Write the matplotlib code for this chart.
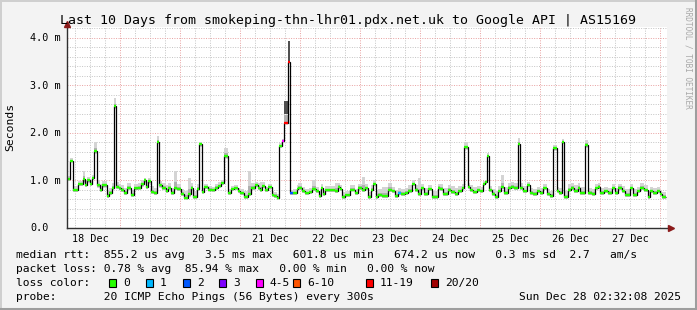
import matplotlib
matplotlib.use('Agg')
import matplotlib.pyplot as plt
from matplotlib.patches import Rectangle
from matplotlib.lines import Line2D
import numpy as np

W, H = 697, 310

# hours since 18 Dec 00:00, start of each consolidated step
t_start = [
    2.8, 4.0, 5.2, 7.2, 9.2, 10.0, 10.8, 12.0, 12.8, 13.6,
    14.8, 16.0, 16.8, 18.8, 19.6, 20.8, 21.6, 22.4, 23.6, 24.4,
    25.6, 26.8, 28.4, 29.6, 31.2, 32.4, 33.6, 34.4, 35.2, 36.4,
    37.6, 38.8, 39.6, 40.8, 42.4, 43.2, 44.4, 45.6, 46.8, 48.4,
    49.6, 51.2, 52.4, 53.2, 54.8, 55.6, 56.8, 57.6, 59.2, 60.8,
    62.0, 63.2, 64.4, 65.6, 67.2, 68.4, 69.6, 71.2, 72.0, 73.6,
    75.2, 76.4, 78.0, 79.2, 80.0, 80.8, 82.0, 83.2, 84.8, 85.6,
    86.8, 87.6, 88.8, 89.6, 91.2, 92.0, 93.2, 94.8, 95.2, 96.8,
    98.0, 99.6, 100.8, 102.4, 103.6, 104.4, 105.2, 106.0, 107.2, 110.0,
    111.2, 112.0, 112.8, 114.0, 116.0, 118.0, 119.2, 120.8, 122.0, 123.2,
    124.4, 125.2, 126.4, 127.2, 128.8, 131.2, 132.8, 134.0, 135.2, 136.4,
    138.0, 139.2, 140.8, 142.0, 143.2, 144.4, 145.6, 147.2, 148.8, 151.2,
    152.0, 153.2, 155.2, 156.4, 158.0, 159.2, 160.8, 161.6, 163.2, 164.0,
    165.2, 166.8, 168.0, 169.2, 170.0, 170.8, 171.6, 172.8, 174.0, 175.2,
    176.4, 177.6, 179.2, 180.4, 181.6, 183.2, 184.0, 185.2, 186.8, 188.0,
    189.2, 190.8, 192.0, 193.2, 194.8, 196.0, 197.2, 198.8, 199.6, 200.8,
    201.6, 203.2, 204.4, 205.6, 207.2, 208.0, 210.0, 211.2, 212.8, 214.0,
    215.2, 216.0, 217.6, 219.2, 220.8, 222.0, 223.2, 224.8, 226.0, 228.0,
    229.2, 230.8, 232.0, 233.6, 235.2, 236.0, 237.2, 238.8, 240.0, 240.8,
]
t_end = 242.4

# median rtt in ms
median_ms = [
    1.03, 1.42, 0.80, 0.92, 1.03, 0.90, 1.00, 0.92, 1.06, 1.62,
    0.90, 0.79, 0.90, 0.68, 0.73, 0.85, 2.56, 0.87, 0.84, 0.80,
    0.73, 0.85, 0.69, 0.84, 0.85, 0.92, 1.00, 0.87, 0.98, 0.76,
    0.73, 1.82, 0.90, 0.84, 0.78, 0.85, 0.73, 0.84, 0.82, 0.71,
    0.64, 0.71, 0.85, 0.66, 0.82, 1.76, 0.75, 0.86, 0.81, 0.79,
    0.85, 0.89, 0.94, 1.52, 0.73, 0.82, 0.85, 0.78, 0.73, 0.66,
    0.71, 0.84, 0.90, 0.85, 0.80, 0.89, 0.79, 0.87, 0.69, 0.68,
    0.64, 1.73, 1.84, 2.22, 3.50, 0.74, 0.74, 0.82, 0.85, 0.77,
    0.73, 0.75, 0.82, 0.77, 0.68, 0.84, 0.71, 0.79, 0.80, 0.78,
    0.87, 0.82, 0.66, 0.69, 0.81, 0.73, 0.85, 0.80, 0.84, 0.65,
    0.80, 0.92, 0.66, 0.69, 0.68, 0.80, 0.77, 0.68, 0.73, 0.71,
    0.74, 0.77, 0.92, 0.80, 0.71, 0.84, 0.71, 0.82, 0.66, 0.85,
    0.82, 0.71, 0.80, 0.75, 0.71, 0.77, 0.84, 1.70, 0.87, 0.79,
    0.75, 0.80, 0.77, 0.92, 0.96, 1.52, 0.80, 0.71, 0.66, 0.77,
    0.87, 0.73, 0.84, 0.87, 0.84, 1.77, 0.84, 0.77, 0.90, 0.73,
    0.71, 0.77, 0.73, 0.84, 0.71, 0.68, 1.68, 0.77, 0.74, 1.82,
    0.66, 0.80, 0.84, 0.78, 0.85, 0.74, 1.75, 0.74, 0.71, 0.84,
    0.87, 0.73, 0.77, 0.73, 0.84, 0.73, 0.85, 0.77, 0.69, 0.84,
    0.69, 0.77, 0.85, 0.79, 0.66, 0.77, 0.73, 0.77, 0.71, 0.66,
]

# smoke: top and bottom of the ping spread, ms
smoke_hi = [
    1.10, 1.48, 0.88, 0.98, 1.19, 1.00, 1.08, 1.00, 1.12, 1.82,
    1.00, 0.92, 0.98, 0.80, 0.85, 0.94, 2.73, 0.96, 0.93, 0.90,
    0.84, 0.95, 0.80, 0.93, 0.95, 1.00, 1.06, 0.96, 1.05, 0.88,
    0.84, 1.94, 0.98, 0.94, 0.90, 0.95, 0.84, 1.19, 0.92, 0.82,
    0.78, 1.05, 0.94, 0.78, 0.92, 1.80, 0.84, 0.92, 0.88, 0.86,
    0.92, 0.96, 1.00, 1.68, 0.82, 0.88, 0.90, 0.85, 0.82, 0.78,
    1.19, 0.95, 0.97, 0.95, 0.97, 0.96, 0.86, 0.93, 0.78, 0.76,
    0.72, 1.78, 1.88, 2.68, 3.94, 0.80, 0.82, 0.90, 0.94, 0.86,
    0.82, 0.84, 1.00, 0.86, 0.78, 0.93, 0.80, 0.88, 0.88, 0.95,
    0.95, 0.90, 0.76, 0.78, 0.90, 0.82, 0.93, 1.08, 0.93, 0.76,
    0.90, 1.00, 0.80, 0.82, 0.86, 0.95, 0.86, 0.80, 0.84, 0.82,
    0.84, 0.90, 1.00, 0.90, 1.05, 0.93, 0.84, 0.90, 0.78, 0.93,
    0.92, 0.84, 0.90, 0.88, 0.84, 0.88, 0.92, 1.80, 0.95, 0.90,
    0.86, 0.88, 0.86, 0.98, 1.02, 1.58, 0.88, 0.82, 0.78, 0.88,
    1.12, 0.86, 0.94, 0.96, 0.94, 1.89, 0.95, 0.88, 0.97, 0.84,
    0.82, 0.86, 0.84, 0.92, 0.82, 0.78, 1.75, 0.86, 0.84, 1.87,
    0.78, 0.92, 0.94, 0.90, 0.94, 0.86, 1.85, 0.84, 0.82, 0.92,
    0.94, 0.84, 0.86, 0.84, 0.92, 0.84, 0.93, 0.88, 0.82, 0.92,
    0.82, 0.86, 0.94, 0.90, 0.78, 0.86, 0.84, 0.86, 0.80, 0.76,
]
smoke_lo = [
    0.98, 1.38, 0.76, 0.88, 0.95, 0.86, 0.95, 0.88, 1.00, 1.55,
    0.85, 0.75, 0.84, 0.64, 0.69, 0.80, 2.50, 0.82, 0.79, 0.76,
    0.69, 0.80, 0.65, 0.79, 0.80, 0.87, 0.94, 0.83, 0.92, 0.72,
    0.69, 1.76, 0.85, 0.80, 0.74, 0.80, 0.69, 0.80, 0.78, 0.67,
    0.60, 0.66, 0.80, 0.62, 0.78, 1.70, 0.71, 0.82, 0.77, 0.75,
    0.81, 0.85, 0.90, 1.46, 0.69, 0.78, 0.81, 0.74, 0.69, 0.62,
    0.67, 0.80, 0.86, 0.81, 0.76, 0.85, 0.75, 0.83, 0.65, 0.64,
    0.60, 1.68, 1.80, 2.40, 3.50, 0.70, 0.70, 0.78, 0.81, 0.73,
    0.69, 0.71, 0.78, 0.73, 0.64, 0.80, 0.67, 0.75, 0.76, 0.74,
    0.83, 0.78, 0.62, 0.65, 0.77, 0.69, 0.81, 0.76, 0.80, 0.61,
    0.76, 0.88, 0.62, 0.65, 0.64, 0.76, 0.73, 0.64, 0.69, 0.67,
    0.70, 0.73, 0.88, 0.76, 0.67, 0.80, 0.67, 0.78, 0.62, 0.81,
    0.78, 0.67, 0.76, 0.71, 0.67, 0.73, 0.80, 1.64, 0.83, 0.75,
    0.71, 0.76, 0.73, 0.88, 0.92, 1.47, 0.76, 0.67, 0.62, 0.73,
    0.83, 0.69, 0.80, 0.83, 0.80, 1.72, 0.80, 0.73, 0.86, 0.69,
    0.67, 0.73, 0.69, 0.80, 0.67, 0.64, 1.62, 0.73, 0.70, 1.76,
    0.62, 0.76, 0.80, 0.74, 0.81, 0.70, 1.69, 0.70, 0.67, 0.80,
    0.83, 0.69, 0.73, 0.69, 0.80, 0.69, 0.81, 0.73, 0.65, 0.80,
    0.65, 0.73, 0.81, 0.75, 0.62, 0.73, 0.69, 0.73, 0.67, 0.62,
]

# pings lost (out of 20) where non-zero, keyed by step start
lost_pings = {88.8: 4, 89.6: 12, 91.2: 12, 92.0: 2, 135.2: 1}

loss_labels = ['0', '1', '2', '3', '4-5', '6-10', '11-19', '20/20']
loss_colors = ['#26ff00', '#00b8ff', '#0059ff', '#7e00ff',
               '#ff00ff', '#ff5500', '#ff0000', '#a00000']
loss_upper = [0, 1, 2, 3, 5, 10, 19, 20]

day_labels = ['18 Dec', '19 Dec', '20 Dec', '21 Dec', '22 Dec',
              '23 Dec', '24 Dec', '25 Dec', '26 Dec', '27 Dec']
y_ticks = [0, 1, 2, 3, 4]
y_labels = ['0.0', '1.0 m', '2.0 m', '3.0 m', '4.0 m']

title = 'Last 10 Days from smokeping-thn-lhr01.pdx.net.uk to Google API | AS15169'
legend_rtt = ('median rtt:  855.2 us avg   3.5 ms max   601.8 us min   '
              '674.2 us now   0.3 ms sd  2.7   am/s')
legend_loss = 'packet loss: 0.78 % avg  85.94 % max   0.00 % min   0.00 % now'
legend_probe = 'probe:       20 ICMP Echo Pings (56 Bytes) every 300s'
stamp = 'Sun Dec 28 02:32:08 2025'


def loss_color(n):
    for up, c in zip(loss_upper, loss_colors):
        if n <= up:
            return c
    return loss_colors[-1]


def fx(x):
    return x / W


def fy(y):
    return 1 - y / H


MONO = 'DejaVu Sans Mono'
plt.rcParams['font.family'] = MONO

fig = plt.figure(figsize=(W / 100, H / 100), dpi=100, facecolor='#f3f3f3')
ax = fig.add_axes([fx(66.5), fy(228), 600 / W, 201 / H])
ax.set_facecolor('white')
ax.set_xlim(2.6, 242.6)
ax.set_ylim(0, 4.23)
for s in ax.spines.values():
    s.set_visible(False)

# grid
for h in np.arange(6, 243, 6):
    major = h % 24 == 0
    ax.axvline(h, color='#e8a0a0' if major else '#c4c4c4', lw=0.7,
               ls=(0, (1, 1.5)), zorder=0.5)
for v in np.arange(0.2, 4.23, 0.2):
    major = abs(v - round(v)) < 1e-6
    ax.axhline(v, color='#e8a0a0' if major else '#c4c4c4', lw=0.7,
               ls=(0, (1, 1.5)), zorder=0.5)

edges = np.array(t_start + [t_end])
med = np.array(median_ms)
hi = np.array(smoke_hi)
lo = np.array(smoke_lo)
lost = np.array([lost_pings.get(t, 0) for t in t_start])

# smoke
ax.stairs(hi, edges, baseline=lo, fill=True, color='#d4d4d4', lw=0, zorder=1)
ax.stairs(med + (hi - med) * 0.35, edges, baseline=np.minimum(lo + 0.02, med),
          fill=True, color='#b0b0b0', lw=0, zorder=1.1)
for i in np.where(lost >= 10)[0]:
    ax.fill_between([edges[i], edges[i + 1]], lo[i], hi[i], color='#505050',
                    lw=0, zorder=1.2)

# median
ax.stairs(med, edges, baseline=None, color='black', lw=0.9, zorder=2)
ax.hlines(med, edges[:-1], edges[1:], colors=[loss_color(n) for n in lost],
          lw=1.7, zorder=3)

# axes lines with arrows
ax.plot([0, 1.005], [0, 0], transform=ax.transAxes, color='#303030', lw=1.0,
        clip_on=False, zorder=4)
ax.plot([0, 0], [0, 1.01], transform=ax.transAxes, color='#303030', lw=1.0,
        clip_on=False, zorder=4)
ax.plot([1.008], [0], transform=ax.transAxes, marker='>', ms=4.5,
        color='#8b1a1a', clip_on=False, zorder=5)
ax.plot([0], [1.016], transform=ax.transAxes, marker='^', ms=4.5,
        color='#8b1a1a', clip_on=False, zorder=5)

# ticks
ax.set_xticks([24 * i + 12 for i in range(len(day_labels))])
ax.set_xticklabels(day_labels, fontsize=7.3)
ax.tick_params(axis='x', length=0, pad=4)
ax.set_yticks([])
for v, lab in zip(y_ticks, y_labels):
    xr = 48.5 if v == 0 else 60.5
    fig.text(fx(xr), fy(228 - v * 47.5), lab, fontsize=7.3, ha='right',
             va='center')

fig.text(0.5, fy(24), title, fontsize=9.5, ha='center', va='baseline')
fig.text(fx(10), fy(127), 'Seconds', rotation=90, fontsize=8.2,
         ha='center', va='center')
fig.text(fx(688), fy(58), 'RRDTOOL / TOBI OETIKER', rotation=270,
         fontsize=5.6, color='#a8a8a8', ha='center', va='center')

# legend
lfs = 8.1
fig.text(fx(16), fy(258), legend_rtt, fontsize=lfs, va='baseline')
fig.text(fx(16), fy(272), legend_loss, fontsize=lfs, va='baseline')
fig.text(fx(16), fy(286), 'loss color:', fontsize=lfs, va='baseline')
box_x = [109, 146, 183, 219, 256, 293, 366, 431]
for lab, c, bx in zip(loss_labels, loss_colors, box_x):
    fig.add_artist(Rectangle((fx(bx), fy(286.5)), 7 / W, 7.5 / H,
                             transform=fig.transFigure, facecolor=c,
                             edgecolor='black', lw=0.8))
    fig.text(fx(bx + 14), fy(286), lab, fontsize=lfs, va='baseline')
fig.text(fx(16), fy(300), legend_probe, fontsize=lfs, va='baseline')
fig.text(fx(681), fy(300), stamp, fontsize=lfs, ha='right', va='baseline')

# frame
fig.add_artist(Line2D([0, 1], [fy(0.5)] * 2, transform=fig.transFigure,
                      color='#cfcfcf', lw=1.4))
fig.add_artist(Line2D([fx(0.5)] * 2, [0, 1], transform=fig.transFigure,
                      color='#cfcfcf', lw=1.4))
fig.add_artist(Line2D([0, 1], [fy(308.5)] * 2, transform=fig.transFigure,
                      color='#9e9e9e', lw=2.2))
fig.add_artist(Line2D([fx(695.5)] * 2, [0, 1], transform=fig.transFigure,
                      color='#9e9e9e', lw=2.2))

fig.savefig('out.png', dpi=100, facecolor=fig.get_facecolor())
